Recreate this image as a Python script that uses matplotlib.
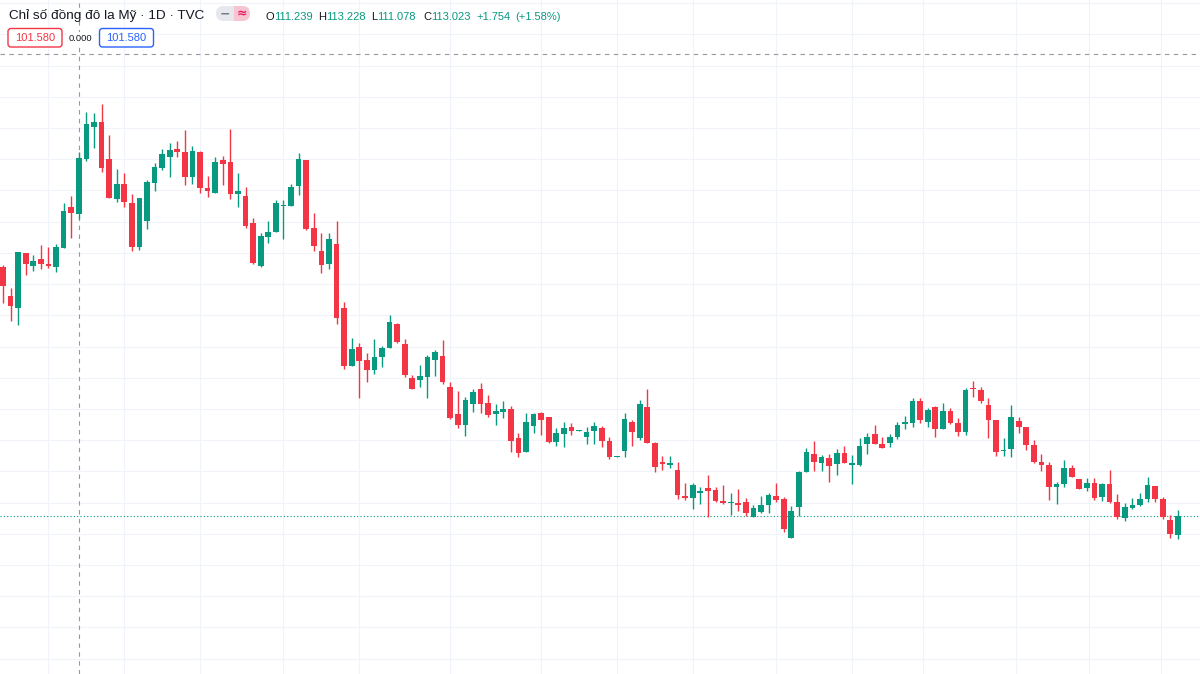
import matplotlib
matplotlib.use("Agg")
import matplotlib.pyplot as plt
from matplotlib.patches import FancyBboxPatch
import numpy as np

# ---------------- data (daily OHLC) ----------------
title = "Chỉ số đồng đô la Mỹ · 1D · TVC"
ohlc_labels = ["O", "H", "L", "C"]
ohlc_values = ["111.239", "113.228", "111.078", "113.023"]
change_text = ["+1.754", "(+1.58%)"]
last_price_text = "101.580"
spread_text = "0.000"

opens = [109.56, 108.62, 108.23, 109.99, 109.59, 109.80, 109.64, 109.56, 110.15, 111.46,
         111.239, 113.00, 114.02, 114.20, 113.01, 111.73, 112.20, 111.59, 110.20, 111.02,
         112.23, 112.73, 113.08, 113.32, 113.23, 112.44, 113.23, 112.07, 111.91, 112.97,
         112.92, 111.89, 111.82, 110.95, 109.59, 110.50, 110.66, 111.50, 111.50, 112.15,
         112.98, 110.79, 110.07, 109.63, 110.28, 108.23, 106.39, 106.98, 106.57, 106.25,
         106.68, 106.94, 107.71, 107.08, 105.98, 105.93, 106.03, 106.57, 106.71, 105.69,
         104.83, 104.49, 105.15, 105.64, 105.20, 104.85, 104.91, 104.99, 104.06, 103.63,
         104.46, 104.86, 104.73, 103.95, 104.20, 104.41, 104.30, 104.11, 104.29, 104.38,
         103.97, 103.47, 103.65, 104.59, 104.06, 105.06, 103.90, 103.31, 103.21, 103.05,
         102.21, 102.16, 102.30, 102.48, 102.40, 102.06, 101.98, 102.00, 102.02, 101.55,
         101.69, 101.92, 102.21, 102.12, 100.86, 101.85, 102.99, 103.55, 103.26, 103.44,
         103.23, 103.58, 103.21, 103.21, 103.87, 104.20, 103.87, 103.90, 104.09, 104.51,
         104.56, 105.26, 104.59, 105.05, 104.36, 104.94, 104.54, 104.27, 105.68, 105.61,
         105.13, 104.65, 103.65, 103.72, 104.62, 104.41, 103.85, 103.31, 103.21, 102.49,
         102.60, 103.12, 102.76, 102.46, 102.62, 102.19, 102.59, 102.01, 101.50, 101.82,
         101.92, 102.11, 102.54, 102.12, 101.44, 100.96]

closes = [108.95, 108.30, 110.02, 109.64, 109.75, 109.64, 109.58, 110.20, 111.35, 111.27,
          113.023, 114.12, 114.18, 112.71, 111.77, 112.20, 111.64, 110.20, 111.75, 112.28,
          112.74, 113.17, 113.30, 113.24, 112.44, 113.27, 112.07, 111.98, 112.90, 112.84,
          111.89, 111.99, 110.86, 109.67, 110.55, 110.68, 111.59, 111.54, 112.12, 113.00,
          110.76, 110.22, 109.61, 110.45, 107.90, 106.39, 106.92, 106.55, 106.25, 106.68,
          106.96, 107.79, 107.15, 106.09, 105.63, 106.06, 106.66, 106.83, 105.87, 104.70,
          104.49, 105.29, 105.55, 105.16, 104.81, 104.93, 105.00, 103.97, 103.60, 104.59,
          104.85, 104.65, 103.95, 104.24, 104.40, 104.30, 104.33, 104.26, 104.46, 103.98,
          103.47, 103.50, 104.68, 104.25, 105.15, 103.90, 103.15, 103.25, 103.26, 102.24,
          102.16, 102.56, 102.38, 102.38, 102.05, 101.98, 102.02, 101.92, 101.66, 101.82,
          101.92, 102.23, 102.08, 101.16, 101.73, 102.99, 103.63, 103.31, 103.45, 103.18,
          103.58, 103.28, 103.26, 103.82, 104.09, 103.87, 103.76, 104.09, 104.49, 104.59,
          105.27, 104.65, 104.97, 104.36, 104.94, 104.54, 104.27, 105.61, 105.65, 105.27,
          104.65, 103.61, 103.69, 104.73, 104.41, 103.85, 103.29, 103.21, 102.51, 102.59,
          103.12, 102.81, 102.43, 102.64, 102.14, 102.59, 102.01, 101.53, 101.87, 101.92,
          102.11, 102.56, 102.11, 101.55, 100.99, 101.58]

highs = [109.61, 108.87, 110.03, 110.00, 109.93, 110.25, 110.19, 110.28, 111.60, 111.82,
         113.228, 114.52, 114.47, 114.76, 113.78, 112.69, 112.55, 111.89, 111.76, 112.33,
         112.89, 113.32, 113.51, 113.59, 113.94, 113.42, 113.26, 112.46, 113.08, 113.10,
         113.96, 112.55, 112.12, 111.13, 110.63, 111.03, 111.69, 111.69, 112.20, 113.19,
         112.99, 111.29, 110.63, 110.65, 111.02, 108.44, 107.26, 107.10, 106.78, 107.23,
         107.03, 108.01, 107.75, 107.23, 106.09, 106.41, 106.73, 106.89, 107.21, 105.85,
         105.58, 105.39, 105.64, 105.82, 105.45, 105.15, 105.26, 105.09, 104.22, 104.88,
         104.86, 104.91, 104.75, 104.38, 104.59, 104.54, 104.33, 104.41, 104.57, 104.46,
         104.09, 103.50, 104.86, 104.65, 105.29, 105.64, 103.95, 103.49, 103.49, 103.29,
         102.64, 102.62, 102.51, 102.87, 102.51, 102.57, 102.30, 102.43, 102.14, 101.92,
         102.21, 102.30, 102.62, 102.19, 101.90, 103.01, 103.76, 103.97, 103.53, 103.55,
         103.71, 103.82, 103.53, 104.08, 104.22, 104.49, 104.09, 104.20, 104.59, 104.78,
         105.34, 105.36, 105.02, 105.10, 105.18, 105.02, 104.70, 105.66, 105.90, 105.71,
         105.36, 104.65, 104.06, 105.13, 104.73, 104.43, 104.01, 103.55, 103.29, 102.65,
         103.37, 103.21, 102.76, 102.78, 102.78, 102.62, 103.05, 102.26, 101.98, 102.16,
         102.30, 102.83, 102.54, 102.19, 101.60, 101.76]

lows = [108.39, 107.82, 107.69, 109.29, 109.43, 109.48, 109.52, 109.39, 110.14, 110.48,
        111.078, 112.94, 113.35, 112.58, 111.76, 111.62, 111.48, 110.07, 110.09, 110.78,
        111.98, 112.65, 112.42, 113.06, 112.17, 112.20, 111.93, 111.80, 111.91, 112.17,
        111.72, 111.48, 110.79, 109.64, 109.56, 110.31, 110.66, 110.43, 111.50, 111.86,
        110.73, 110.06, 109.37, 109.47, 107.72, 106.28, 106.39, 105.34, 105.87, 106.12,
        106.34, 106.94, 107.12, 106.03, 105.63, 105.71, 105.34, 106.07, 105.79, 104.67,
        104.40, 104.14, 104.89, 104.88, 104.75, 104.49, 104.70, 103.63, 103.45, 103.63,
        104.22, 104.17, 103.90, 103.81, 103.77, 104.17, 104.30, 103.88, 103.88, 103.79,
        103.40, 103.47, 103.47, 103.82, 104.01, 103.90, 102.97, 103.03, 103.12, 102.11,
        102.08, 101.79, 101.95, 101.55, 102.01, 101.95, 101.60, 101.73, 101.58, 101.55,
        101.66, 101.66, 102.01, 101.05, 100.86, 101.58, 102.99, 103.01, 103.01, 102.65,
        102.89, 103.26, 102.59, 103.18, 103.55, 103.87, 103.76, 103.79, 104.04, 104.35,
        104.43, 104.56, 104.43, 104.11, 104.36, 104.52, 104.14, 104.17, 105.39, 105.18,
        104.06, 103.50, 103.50, 103.45, 104.22, 103.69, 103.26, 103.01, 102.08, 101.95,
        102.51, 102.81, 102.43, 102.38, 102.08, 102.04, 101.98, 101.48, 101.42, 101.80,
        101.89, 102.03, 102.03, 101.48, 100.88, 100.84]

# ---------------- style ----------------
W, H = 1200, 674
UP = "#089981"
DOWN = "#f23645"
GRID = "#f0f3fa"
TEXT = "#131722"
CROSS = "#9598a1"
BLUE = "#2962ff"
FONT = "Liberation Sans"

fig = plt.figure(figsize=(W / 100, H / 100), dpi=100)
fig.patch.set_facecolor("white")

ax = fig.add_axes([0, 0, 1, 1])
ax.set_facecolor("white")
n = len(opens)
idx = np.arange(n)
o = np.array(opens); c = np.array(closes); hi = np.array(highs); lo = np.array(lows)
up = c >= o
cols = np.where(up, UP, DOWN)

# view window (bar spacing ~7.58 px, ~31.2 px per index point)
ax.set_xlim(-0.396, 157.92)
ax.set_ylim(96.51, 118.10)

# grid
ax.set_yticks(np.arange(97, 119, 1))
ax.set_xticks([6, 16, 26, 37, 47, 59, 71, 81, 91, 102, 112, 121.4, 133.6, 143.3, 152.8])
ax.grid(True, color=GRID, lw=0.75, snap=True)
ax.set_axisbelow(True)
ax.tick_params(left=False, bottom=False, labelleft=False, labelbottom=False)
for s in ax.spines.values():
    s.set_visible(False)

# crosshair + last price line
ax.axvline(10, color=CROSS, lw=0.8, ls=(0, (4, 4)), zorder=1)
ax.axhline(116.36, color=CROSS, lw=0.8, ls=(0, (4, 4)), zorder=1)
ax.axhline(c[-1], color=UP, lw=0.8, ls=(0, (1, 2)), zorder=1)

# candles
ax.vlines(idx, lo, hi, colors=cols, lw=1.0, zorder=2)
body_h = np.maximum(np.abs(c - o), 0.035)
ax.bar(idx, body_h, bottom=np.minimum(o, c), width=0.75, color=cols, lw=0, zorder=3)

# ---------------- header overlay in pixel coordinates ----------------
ov = fig.add_axes([0, 0, 1, 1], zorder=5)
ov.set_xlim(0, W); ov.set_ylim(H, 0)
ov.axis("off")
ov.patch.set_alpha(0)
fig.canvas.draw()
rend = fig.canvas.get_renderer()

def width_of(t):
    return t.get_window_extent(rend).width

# title, fitted to its measured width
t = ov.text(9, 19.5, title, color=TEXT, fontsize=10, family=FONT, va="baseline", ha="left")
t.set_fontsize(10 * 194 / width_of(t))

# pill icon
ov.add_patch(FancyBboxPatch((224, 6), 26, 15, boxstyle="round,pad=0,rounding_size=7.5",
                            fc="#f7c4d2", ec="none"))
ov.add_patch(FancyBboxPatch((216, 6), 18, 15, boxstyle="round,pad=0,rounding_size=7.5",
                            fc="#e6e8ee", ec="none"))
ov.add_patch(plt.Rectangle((228, 6), 6, 15, fc="#e6e8ee", ec="none"))
ov.text(224.5, 13.5, "−", color="#787b86", fontsize=9, family="DejaVu Sans",
        va="center", ha="center", weight="bold")
ov.text(241.5, 13.5, "≈", color="#e91e63", fontsize=9, family="DejaVu Sans",
        va="center", ha="center", weight="bold")

# OHLC legend
group_x = [265, 318, 371, 423]
for gx, lab, val in zip(group_x, ohlc_labels, ohlc_values):
    tl = ov.text(gx, 19.5, lab, color=TEXT, fontsize=8.0, family=FONT, va="baseline", ha="left")
    ov.text(gx + width_of(tl), 19.5, val, color=UP, fontsize=8.0, family=FONT,
            va="baseline", ha="left")
ov.text(476.5, 19.5, change_text[0], color=UP, fontsize=8.0, family=FONT, va="baseline", ha="left")
ov.text(515, 19.5, change_text[1], color=UP, fontsize=8.0, family=FONT, va="baseline", ha="left")

# second row: price boxes
def price_box(x0, x1, txt, col):
    ov.add_patch(FancyBboxPatch((x0, 28.5), x1 - x0, 18.5,
                                boxstyle="round,pad=0,rounding_size=3",
                                fc="white", ec=col, lw=1.0))
    ov.text((x0 + x1) / 2, 38.2, txt, color=col, fontsize=8.0, family=FONT,
            va="center", ha="center")

price_box(8, 62, last_price_text, DOWN)
ov.text(80.5, 38.2, spread_text, color=TEXT, fontsize=6.8, family=FONT, va="center",
        ha="center", bbox=dict(fc="white", ec="none", pad=1))
price_box(99.5, 153.5, last_price_text, BLUE)

fig.savefig("out.png", dpi=100, facecolor="white")
